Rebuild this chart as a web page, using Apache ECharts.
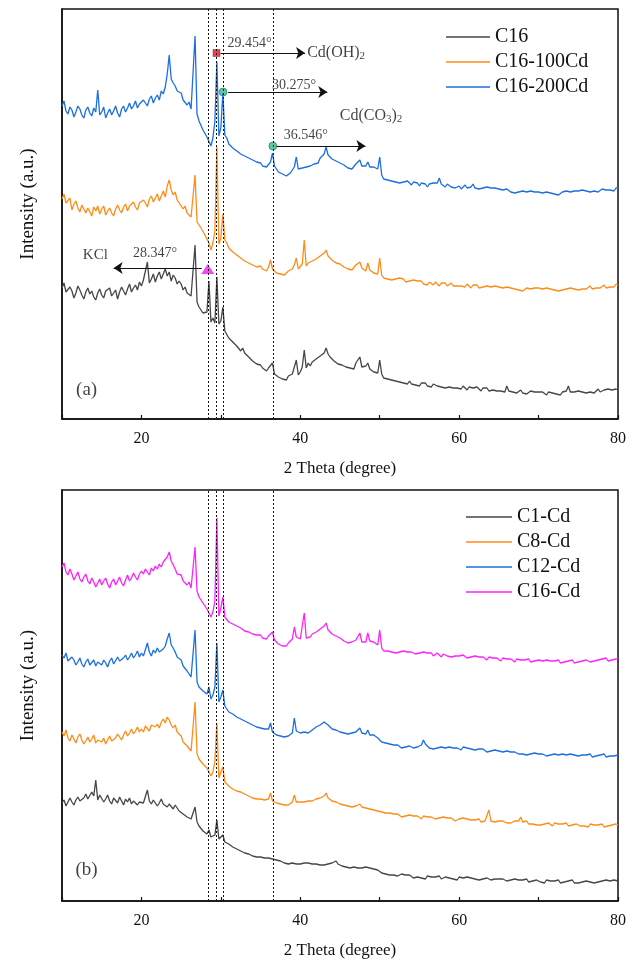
<!DOCTYPE html>
<html>
<head>
<meta charset="utf-8">
<script src="https://cdn.jsdelivr.net/npm/echarts@6/dist/echarts.min.js"></script>
<style>
  html, body { margin: 0; padding: 0; background: #ffffff; }
  #chart { width: 629px; height: 961px; }
</style>
</head>
<body>
<div id="chart"></div>
<script>
// XRD patterns: intensity (a.u., stacked) vs 2θ, scanned 10–80° in 0.25° steps
const scanStart = 10;
const scanStep = 0.25;
const xTickLabels = [20, 40, 60, 80];
const peakPositions = [28.347, 29.454, 30.275, 36.546];
const namesA = ['C16', 'C16-100Cd', 'C16-200Cd'];
const namesB = ['C1-Cd', 'C8-Cd', 'C12-Cd', 'C16-Cd'];

// ---- Panel (a) ----
const c16 = [
  131,136,127,125,132, 128,121,126,133,129, 124,120,127,131,125, 128,122,119,126,130,
  124,121,128,126,131, 123,125,129,120,127, 132,128,124,130,135, 127,131,134,129,137,
  133,139,141,157,136, 140,145,137,143,147, 140,145,150,143,147, 138,144,141,135,138,
  135,129,132,126,128, 123,121,174,117,112, 109,106,104,107,138, 97,101,96,142,95,
  98,112,88,87,81, 83,77,79,73,75, 68,71,66,65,62, 63,58,60,55,55,
  54,51,52,48,51, 49,56,45,45,42, 43,40,42,39,43, 41,45,46,59,44,
  47,52,69,51,56, 53,57,55,60,59, 63,64,66,71,65, 62,61,58,58,55,
  57,54,55,52,54, 51,52,50,56,57, 62,52,54,53,56, 50,50,47,48,46,
  59,45,41,43,40, 42,39,41,38,40, 37,39,36,38,35, 38,35,37,34,36,
  33,36,34,36,33, 35,32,35,34,33, 35,32,34,31,33, 32,34,31,33,31,
  32,30,33,31,29, 32,30,31,29,32, 30,28,31,29,31, 28,30,29,31,28,
  30,28,29,27,33, 28,29,27,28,26, 28,29,26,28,25, 27,28,26,27,25,
  27,25,27,26,24, 27,25,26,28,25, 26,24,27,26,28, 33,27,25,27,26,
  28,26,27,29,26, 28,27,29,26,28, 30,27,28,29,27, 30,28,29,27,30,
  29
];
const c16_100Cd = [
  220,225,216,214,221, 209,215,218,211,207, 214,216,206,211,209, 203,212,208,213,205,
  210,213,204,208,211, 206,203,210,214,209, 206,212,215,208,213, 211,217,212,209,216,
  214,219,216,212,220, 223,217,221,225,218, 223,228,222,233,239, 229,224,227,219,216,
  216,210,213,206,208, 202,204,244,197,198, 191,190,184,183,176, 169,176,188,272,175,
  181,205,179,176,171, 172,167,169,164,165, 161,163,158,160,156, 158,154,156,152,154,
  153,150,151,148,152, 159,150,148,146,148, 145,147,144,146,148, 147,150,154,161,150,
  151,155,179,153,156, 154,158,156,160,158, 163,161,166,169,163, 164,159,161,156,158,
  155,157,152,154,150, 152,149,151,154,152, 157,151,150,148,156, 149,149,146,148,145,
  161,144,141,143,140, 142,139,141,140,138, 141,139,140,137,139, 138,136,139,137,138,
  136,138,135,137,134, 137,136,134,137,135, 133,136,134,136,133, 135,136,133,135,133,
  135,133,134,132,135, 133,131,134,132,134, 131,133,132,130,133, 131,132,130,133,131,
  132,130,131,129,132, 130,131,129,130,132, 129,131,128,130,131, 129,130,128,131,129,
  131,129,130,128,131, 129,130,132,129,131, 128,130,129,131,130, 128,131,129,130,132,
  129,131,130,132,130, 131,133,130,132,131, 133,131,132,134,131, 133,132,134,132,135,
  134
];
const c16_200Cd = [
  313,318,308,305,312, 309,302,307,313,310, 304,301,309,312,306, 303,311,307,329,304,
  307,312,301,306,310, 304,308,313,306,302, 310,313,307,311,316, 310,313,318,311,315,
  314,319,317,313,320, 323,316,321,324,319, 328,325,332,345,364, 340,336,333,328,326,
  326,319,321,314,317, 310,312,383,305,298, 297,289,288,282,281, 273,281,298,357,283,
  291,326,284,281,275, 276,271,273,268,270, 265,267,263,265,261, 263,259,261,257,259,
  256,253,255,252,254, 257,266,253,250,247, 248,245,246,243,245, 246,249,252,262,250,
  248,251,249,252,250, 253,252,255,257,256, 261,259,265,272,264, 263,260,262,258,260,
  256,258,254,255,251, 253,250,252,255,254, 259,253,251,253,257, 252,250,252,253,250,
  262,244,240,242,239, 241,238,240,237,239, 236,238,237,235,238, 236,234,237,235,236,
  233,236,234,235,232, 235,233,236,237,236, 241,235,234,232,235, 233,232,234,231,233,
  233,230,232,234,231, 233,232,235,231,233, 230,232,231,229,232, 230,231,229,231,229,
  230,228,229,227,230, 228,227,229,226,228, 227,225,228,226,227, 225,228,226,227,225,
  227,225,226,224,227, 225,226,228,225,227, 224,226,227,225,228, 226,227,225,228,226,
  228,226,229,227,228, 230,227,229,228,230, 227,229,230,228,229, 231,229,230,228,231,
  231
];

// ---- Panel (b) ----
const c1Cd = [
  98,101,95,97,103, 99,96,101,104,100, 98,103,107,102,104, 109,105,121,101,106,
  104,99,102,106,100, 97,103,101,98,104, 100,96,102,99,103, 97,100,102,96,99,
  101,98,96,111,100, 97,101,99,95,98, 102,97,99,94,97, 95,92,96,93,90,
  91,87,88,84,85, 82,80,94,79,75, 75,70,70,67,71, 64,65,66,81,62,
  63,66,59,61,57, 59,54,56,52,54, 50,52,48,50,47, 49,45,47,44,46,
  44,42,43,41,43, 41,42,40,41,39, 40,42,38,40,37, 39,38,40,37,39,
  37,39,38,36,38, 36,37,35,37,35, 36,38,36,38,37, 36,38,37,40,37,
  37,35,36,34,35, 33,35,34,34,33, 35,33,32,34,32, 33,31,32,30,31,
  30,28,29,27,28, 26,28,26,27,25, 26,27,25,26,24, 26,25,23,25,24,
  25,23,24,22,25, 23,24,22,24,23, 25,22,23,24,22, 23,24,22,23,21,
  24,22,23,21,24, 22,23,21,22,24, 21,23,22,21,23, 22,21,23,22,20,
  22,20,22,21,20, 22,21,19,22,20, 21,19,21,20,22, 19,21,20,19,21,
  21,19,20,18,21, 19,20,18,20,19, 21,18,20,19,18, 20,19,21,18,20,
  18,20,19,17,20, 18,19,21,18,20, 19,18,20,19,21, 19,20,18,21,19,
  20
];
const c8Cd = [
  169,165,171,163,160, 166,162,158,164,167, 161,157,160,164,159, 162,166,158,161,163,
  159,163,157,161,165, 160,158,163,167,164, 161,166,170,165,168, 172,167,170,174,169,
  172,169,175,173,170, 176,178,174,177,173, 179,182,178,184,181, 176,173,176,169,167,
  165,159,161,155,157, 150,152,199,147,142, 143,137,138,133,133, 125,129,140,178,123,
  129,134,119,119,115, 116,112,114,110,112, 109,111,107,109,105, 107,103,105,102,104,
  102,100,101,99,102, 108,100,98,98,96, 97,95,96,94,96, 97,99,106,99,97,
  99,97,99,98,100, 98,100,99,102,100, 103,104,105,108,103, 101,100,98,99,97,
  97,95,96,94,95, 93,94,96,95,96, 97,94,95,93,94, 92,93,91,92,90,
  91,89,87,88,86, 88,86,87,85,87, 86,84,86,85,84, 86,84,85,83,85,
  84,82,85,83,84, 82,84,83,82,84, 83,81,84,82,83, 81,83,82,80,82,
  82,80,83,81,82, 80,81,79,81,80, 82,79,81,80,79, 91,80,81,79,80,
  80,78,80,79,78, 80,78,79,80,78, 80,84,79,78,80, 77,79,77,78,76,
  78,76,78,77,76, 78,77,75,78,76, 77,75,77,76,78, 75,77,76,75,77,
  76,75,77,75,76, 74,77,75,76,74, 76,75,77,74,76, 75,74,76,75,77,
  76
];
const c12Cd = [
  246,243,248,240,238, 244,241,236,239,243, 237,234,239,242,236, 238,241,235,239,237,
  236,241,238,234,240, 243,237,239,244,240, 238,243,246,241,244, 248,243,246,250,244,
  248,245,243,258,249, 245,251,248,253,249, 247,252,255,262,268, 256,253,249,244,243,
  241,235,236,230,231, 224,226,271,219,214, 216,210,211,207,214, 202,206,214,258,199,
  204,211,195,194,189, 191,187,189,184,186, 182,184,180,182,178, 179,176,178,174,176,
  173,171,172,170,172, 178,169,167,166,164, 165,163,164,162,165, 164,168,183,170,168,
  168,170,169,171,168, 170,171,172,174,173, 176,175,179,181,176, 175,172,174,171,172,
  169,171,168,170,167, 169,168,170,169,171, 173,168,166,167,171, 166,165,166,164,163,
  161,159,157,158,156, 157,155,156,154,156, 155,153,155,154,153, 155,154,153,155,154,
  155,156,161,157,155, 153,154,152,154,153, 151,154,152,153,151, 154,152,153,151,153,
  153,151,154,152,153, 151,152,154,151,153, 152,150,152,151,149, 151,150,149,151,149,
  150,148,149,147,150, 148,149,147,149,148, 147,149,147,148,146, 148,147,146,148,146,
  147,145,147,146,145, 147,146,144,147,145, 146,144,147,145,146, 144,147,145,146,147,
  145,147,146,144,146, 145,147,144,146,145, 144,146,145,147,144, 146,145,147,145,146,
  146
];
const c16Cd = [
  334,338,329,326,332, 327,321,325,329,322, 319,324,327,320,317, 323,319,314,318,322,
  316,320,323,317,313, 319,322,316,320,324, 318,315,321,326,320, 323,328,324,321,327,
  330,327,332,329,326, 333,330,335,332,337, 334,339,341,344,349, 340,336,332,327,329,
  326,320,322,316,319, 313,315,354,310,304, 305,298,299,292,293, 284,289,300,383,285,
  293,304,284,282,279, 281,277,279,275,277, 273,274,270,272,269, 271,267,269,266,268,
  266,263,265,262,265, 266,269,261,259,257, 258,255,257,255,258, 259,262,274,264,262,
  262,264,288,263,265, 264,267,266,269,268, 272,271,275,278,271, 270,267,269,265,266,
  263,264,260,262,258, 260,259,258,261,262, 268,259,257,259,268, 260,258,259,257,256,
  271,253,250,252,250, 251,249,251,248,250, 249,247,250,248,249, 247,249,248,247,249,
  248,246,249,247,248, 246,248,245,247,248, 246,244,247,246,245, 247,244,246,245,243,
  245,243,246,244,243, 245,244,242,245,243, 244,242,244,243,241, 244,242,243,241,243,
  242,240,243,241,242, 240,242,241,239,242, 240,241,239,241,240, 242,239,241,240,238,
  241,239,240,238,241, 239,240,238,240,239, 241,238,240,239,238, 240,239,241,238,240,
  239,241,240,238,241, 240,239,241,240,242, 241,239,242,241,243, 240,242,241,243,242,
  243
];

const FONT = 'Liberation Serif';
const INK = '#111111';
const colors = { gray: '#474747', orange: '#ff8c1a', blue: '#1c6fe0', magenta: '#ff22ff' };

function withAngles(values) {
  return values.map((v, i) => [scanStart + i * scanStep, v]);
}
function xAxisFor(gridIndex) {
  return {
    type: 'value', gridIndex, min: 10, max: 80, interval: 10,
    name: '2 Theta (degree)', nameLocation: 'middle', nameGap: 41,
    nameTextStyle: { fontFamily: FONT, fontSize: 17, color: INK },
    axisLine: { show: true, lineStyle: { color: INK, width: 1.5 } },
    axisTick: { show: true, inside: true, length: 4, lineStyle: { color: INK, width: 1.2 } },
    axisLabel: {
      fontFamily: FONT, fontSize: 16, color: INK, margin: 12,
      formatter: v => (xTickLabels.includes(v) ? String(v) : '')
    },
    splitLine: { show: false }
  };
}
function yAxisFor(gridIndex, max) {
  return {
    type: 'value', gridIndex, min: 0, max,
    name: 'Intensity (a.u.)', nameLocation: 'middle', nameGap: 24,
    nameTextStyle: { fontFamily: FONT, fontSize: 19, color: INK, padding: [0, 0, 0, 20] },
    axisLine: { show: true, lineStyle: { color: INK, width: 1.5 } },
    axisTick: { show: false }, axisLabel: { show: false }, splitLine: { show: false }
  };
}
function pattern(name, values, color, idx) {
  return {
    name, type: 'line', data: withAngles(values), xAxisIndex: idx, yAxisIndex: idx,
    showSymbol: false, symbol: 'none', silent: true,
    lineStyle: { color, width: 1.3 }, itemStyle: { color }
  };
}
function peakGuides(idx) {
  return {
    type: 'line', data: [], xAxisIndex: idx, yAxisIndex: idx, silent: true,
    markLine: {
      silent: true, symbol: 'none', label: { show: false }, animation: false,
      lineStyle: { type: [2, 2], color: INK, width: 1 },
      data: peakPositions.map(v => ({ xAxis: v }))
    }
  };
}
const subRich = {
  b: { fontFamily: FONT, fontSize: 16, color: INK },
  s: { fontFamily: FONT, fontSize: 11, color: INK, verticalAlign: 'bottom', padding: [7, 0, 0, 0] }
};
function textItem(x, y, text, pos, size) {
  return {
    value: [x, y],
    label: { show: true, position: pos || 'inside', distance: 0, formatter: text,
             fontFamily: FONT, fontSize: size || 14, color: INK, rich: subRich }
  };
}
function arrow(x0, x1, y) {
  return [{ coord: [x0, y] }, { coord: [x1, y] }];
}

const option = {
  animation: false,
  backgroundColor: '#ffffff',
  grid: [
    { left: 62, right: 10, top: 9, height: 410, show: true, borderColor: INK, borderWidth: 1.5 },
    { left: 62, right: 10, top: 490, height: 411, show: true, borderColor: INK, borderWidth: 1.5 }
  ],
  xAxis: [xAxisFor(0), xAxisFor(1)],
  yAxis: [yAxisFor(0, 410), yAxisFor(1, 411)],
  legend: [
    { data: namesA, orient: 'vertical', left: 441, top: 22, itemWidth: 44, itemHeight: 1.5, itemGap: 5,
      icon: 'rect', textStyle: { fontFamily: FONT, fontSize: 20, color: INK, lineHeight: 20 } },
    { data: namesB, orient: 'vertical', left: 461, top: 502, itemWidth: 46, itemHeight: 1.5, itemGap: 5,
      icon: 'rect', textStyle: { fontFamily: FONT, fontSize: 20, color: INK, lineHeight: 20 } }
  ],
  series: [
    peakGuides(0),
    pattern(namesA[0], c16, colors.gray, 0),
    pattern(namesA[1], c16_100Cd, colors.orange, 0),
    pattern(namesA[2], c16_200Cd, colors.blue, 0),
    peakGuides(1),
    pattern(namesB[0], c1Cd, colors.gray, 1),
    pattern(namesB[1], c8Cd, colors.orange, 1),
    pattern(namesB[2], c12Cd, colors.blue, 1),
    pattern(namesB[3], c16Cd, colors.magenta, 1),
    // phase arrows
    {
      type: 'line', data: [], xAxisIndex: 0, yAxisIndex: 0, silent: true,
      markLine: {
        silent: true, symbol: ['none', 'arrow'], symbolSize: 9, label: { show: false }, animation: false,
        lineStyle: { type: 'solid', color: INK, width: 1 },
        data: [arrow(29.95, 40.6, 366), arrow(30.9, 43.4, 327), arrow(37.0, 48.2, 273), arrow(27.6, 16.5, 151)]
      }
    },
    // phase markers
    { type: 'scatter', xAxisIndex: 0, yAxisIndex: 0, silent: true, symbol: 'rect', symbolSize: 7,
      itemStyle: { color: '#e3161b', borderColor: '#6a0a0a', borderWidth: 0.5 }, data: [[29.454, 366]] },
    { type: 'scatter', xAxisIndex: 0, yAxisIndex: 0, silent: true, symbol: 'circle', symbolSize: 8,
      itemStyle: { color: '#2cc08a', borderColor: '#1c4a3a', borderWidth: 0.6 }, data: [[30.275, 327], [36.546, 273]] },
    { type: 'scatter', xAxisIndex: 0, yAxisIndex: 0, silent: true, symbol: 'triangle', symbolSize: [13, 10],
      itemStyle: { color: '#f01cf0' }, data: [[28.347, 150]] },
    // annotation text, panel (a)
    { type: 'scatter', xAxisIndex: 0, yAxisIndex: 0, silent: true, symbolSize: 1,
      itemStyle: { color: 'rgba(0,0,0,0)' },
      data: [
        textItem(33.6, 376, '29.454°'),
        textItem(40.8, 366, '{b|Cd(OH)}{s|2}', 'right'),
        textItem(39.2, 334, '30.275°'),
        textItem(44.9, 303, '{b|Cd(CO}{s|3}{b|)}{s|2}', 'right'),
        textItem(40.7, 284, '36.546°'),
        textItem(14.2, 164, 'KCl', 'inside', 15),
        textItem(21.7, 166, '28.347°'),
        textItem(13.1, 29, '(a)', 'inside', 19)
      ] },
    { type: 'scatter', xAxisIndex: 1, yAxisIndex: 1, silent: true, symbolSize: 1,
      itemStyle: { color: 'rgba(0,0,0,0)' },
      data: [ textItem(13.1, 31, '(b)', 'inside', 19) ] }
  ]
};

echarts.init(document.getElementById('chart'), null, { renderer: 'canvas' }).setOption(option);
</script>
</body>
</html>
